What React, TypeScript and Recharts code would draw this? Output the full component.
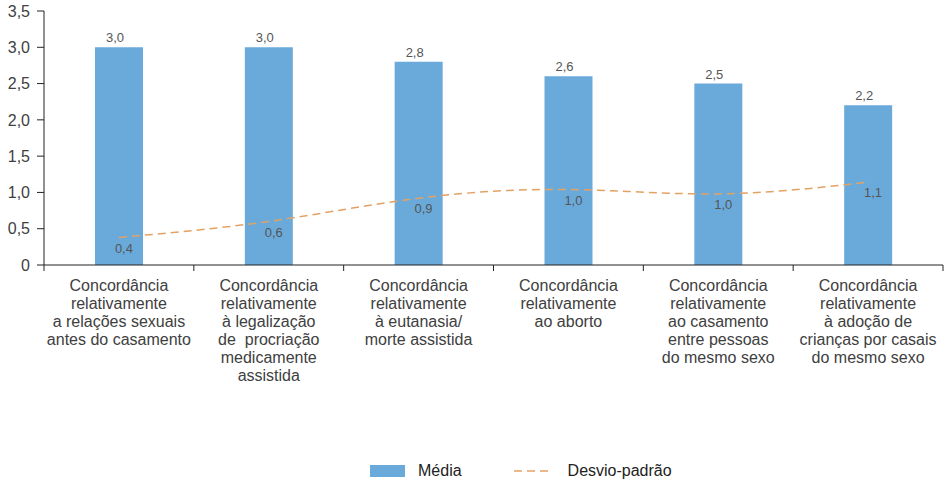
import { ComposedChart, Bar, Line, XAxis, YAxis, Legend, LabelList } from "recharts";

const categories = [
  "Concordância\nrelativamente\na relações sexuais\nantes do casamento",
  "Concordância\nrelativamente\nà legalização\nde  procriação\nmedicamente\nassistida",
  "Concordância\nrelativamente\nà eutanasia/\nmorte assistida",
  "Concordância\nrelativamente\nao aborto",
  "Concordância\nrelativamente\nao casamento\nentre pessoas\ndo mesmo sexo",
  "Concordância\nrelativamente\nà adoção de\ncrianças por casais\ndo mesmo sexo",
];
const mediaValues = [3.0, 3.0, 2.8, 2.6, 2.5, 2.2];
const desvioValues = [0.38, 0.6, 0.92, 1.04, 0.98, 1.14];
const yTicks = [0, 0.5, 1, 1.5, 2, 2.5, 3, 3.5];

const data = categories.map((name, i) => ({
  name,
  media: mediaValues[i],
  desvio: desvioValues[i],
}));

const fmt = (v: number) => (v === 0 ? "0" : v.toFixed(1).replace(".", ","));

const BAR_COLOR = "#6aaadb";
const LINE_COLOR = "#e2a264";
const TEXT = "#404040";

function CategoryTick(props: any) {
  const { x, y, payload, index, visibleTicksCount } = props;
  const half = payload.offset ?? 75;
  const lines = String(payload.value).split("\n");
  return (
    <g>
      <line x1={x - half} x2={x - half} y1={y - 6} y2={y} stroke="#222" />
      {index === visibleTicksCount - 1 && (
        <line x1={x + half} x2={x + half} y1={y - 6} y2={y} stroke="#222" />
      )}
      <text x={x} y={y + 20} textAnchor="middle" fontSize={16} fill={TEXT}>
        {lines.map((l, i) => (
          <tspan key={i} x={x} dy={i === 0 ? 0 : 18} style={{ whiteSpace: "pre" }}>
            {l}
          </tspan>
        ))}
      </text>
    </g>
  );
}

function ChartLegend() {
  return (
    <div style={{ display: "flex", alignItems: "center", fontSize: 16, color: "#222" }}>
      <span style={{ width: 35, height: 12, background: BAR_COLOR, display: "inline-block" }} />
      <span style={{ marginLeft: 13 }}>Média</span>
      <svg width={36} height={4} style={{ marginLeft: 52 }}>
        <line x1={0} x2={36} y1={2} y2={2} stroke={LINE_COLOR} strokeWidth={1.5} strokeDasharray="8 5" />
      </svg>
      <span style={{ marginLeft: 18 }}>Desvio-padrão</span>
    </div>
  );
}

export default function App() {
  return (
    <div
      style={{
        position: "absolute",
        left: 0,
        top: 0,
        width: 945,
        height: 482,
        background: "#fff",
        fontFamily: "'Liberation Sans', Arial, sans-serif",
      }}
    >
      <ComposedChart
        width={945}
        height={482}
        data={data}
        margin={{ top: 11, right: 2, left: 0, bottom: 0 }}
      >
        <XAxis
          dataKey="name"
          interval={0}
          height={193}
          tickSize={6}
          tickMargin={0}
          tickLine={false}
          axisLine={{ stroke: "#222" }}
          tick={<CategoryTick />}
        />
        <YAxis
          width={44}
          domain={[0, 3.5]}
          ticks={yTicks}
          tickFormatter={fmt}
          tickSize={7}
          tickMargin={7}
          axisLine={{ stroke: "#222" }}
          tickLine={{ stroke: "#222" }}
          tick={{ fontSize: 16, fill: TEXT }}
        />
        <Legend
          verticalAlign="bottom"
          content={<ChartLegend />}
          wrapperStyle={{ left: 370, width: 330, height: 24, bottom: -4 }}
        />
        <Bar dataKey="media" name="Média" fill={BAR_COLOR} barSize={48} isAnimationActive={false}>
          <LabelList dataKey="media" position="top" offset={5} dx={-4} formatter={(v: any) => fmt(Number(v))} fontSize={13} fill="#555" />
        </Bar>
        <Line
          dataKey="desvio"
          name="Desvio-padrão"
          type="natural"
          stroke={LINE_COLOR}
          strokeWidth={1.5}
          strokeDasharray="8 5"
          dot={false}
          activeDot={false}
          isAnimationActive={false}
        >
          <LabelList dataKey="desvio" position="bottom" offset={6} dx={5} formatter={(v: any) => fmt(Number(v))} fontSize={13} fill="#555" />
        </Line>
      </ComposedChart>
    </div>
  );
}
